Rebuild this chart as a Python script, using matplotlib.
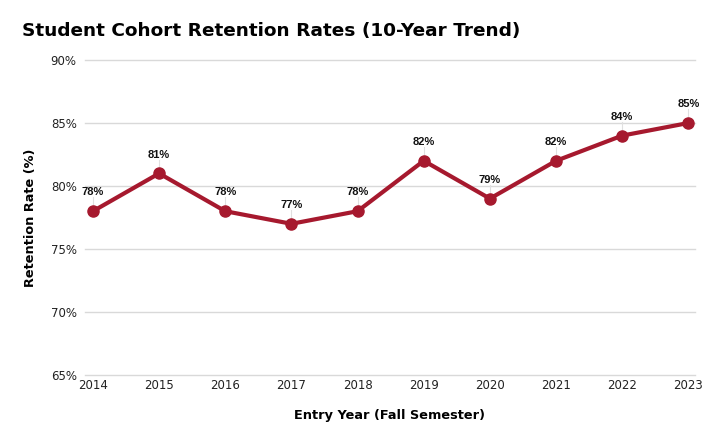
import matplotlib.pyplot as plt

years = [2014, 2015, 2016, 2017, 2018, 2019, 2020, 2021, 2022, 2023]
retention = [78, 81, 78, 77, 78, 82, 79, 82, 84, 85]
y_ticks = [65, 70, 75, 80, 85, 90]

line_color = '#A6192E'

fig = plt.figure(figsize=(7.2, 4.46), dpi=100)
ax = fig.add_axes([85 / 720, 1 - 375 / 446, 610 / 720, 315 / 446])

ax.plot(years, retention, color=line_color, linewidth=3, marker='o',
        markersize=8, zorder=3)

# small leader line + value label above each point
for x, y in zip(years, retention):
    ax.plot([x, x], [y + 0.35, y + 1.1], color='#e0e0e0', linewidth=0.8, zorder=1)
    ax.annotate(f'{y}%', (x, y), xytext=(0, 10), textcoords='offset points',
                ha='center', va='bottom', fontsize=8, fontweight='bold',
                family='Liberation Sans', color='#111111')

ax.set_xlim(2013.88, 2023.1)
ax.set_ylim(65, 90)
ax.set_xticks(years)
ax.set_xticklabels([str(y) for y in years])
ax.set_yticks(y_ticks)
ax.set_yticklabels([f'{t}%' for t in y_ticks])
ax.tick_params(length=0, labelsize=8.5, colors='#222222', pad=6)
ax.tick_params(axis='x', pad=3)
ax.grid(axis='y', color='#d9d9d9', linewidth=1)
for gl in ax.get_ygridlines():
    gl.set_clip_on(False)
ax.set_axisbelow(True)
for s in ax.spines.values():
    s.set_visible(False)

ax.set_xlabel('Entry Year (Fall Semester)', fontsize=9.3, fontweight='bold', labelpad=12)
ax.set_ylabel('Retention Rate (%)', fontsize=9.3, fontweight='bold', labelpad=10)

fig.text(22 / 720, 1 - 31 / 446, 'Student Cohort Retention Rates (10-Year Trend)',
         fontsize=13.3, fontweight='bold', va='center', ha='left')

fig.savefig('out.png', dpi=100)
